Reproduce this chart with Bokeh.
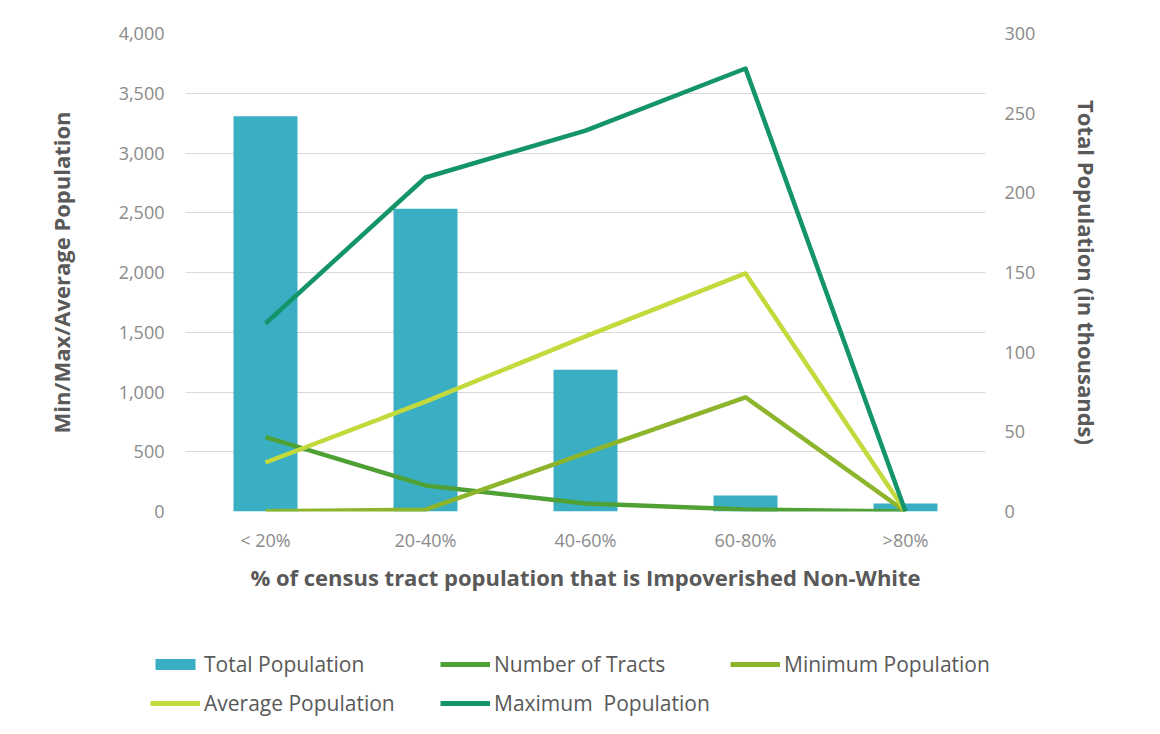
from bokeh.plotting import figure
from bokeh.models import (Range1d, LinearAxis, FactorRange, Legend, LegendItem,
                          NumeralTickFormatter, SingleIntervalTicker, ColumnDataSource)
from bokeh.embed import file_html
from bokeh.resources import INLINE

categories = ["< 20%", "20-40%", "40-60%", "60-80%", ">80%"]
total_population_k = [248, 190, 89, 10, 5]
number_of_tracts = [622, 218, 67, 17, 0]
minimum_population = [3, 15, 488, 956, 0]
average_population = [410, 920, 1465, 1992, 0]
maximum_population = [1573, 2795, 3188, 3707, 0]
legend_labels = ["Total Population", "Number of Tracts", "Minimum Population",
                 "Average Population", "Maximum  Population"]

FONT = "Open Sans"
BAR = "#3AAFC4"
TRACTS = "#4FA035"
MINC = "#8DB52C"
AVG = "#C3D93C"
MAXC = "#14946B"

src = ColumnDataSource(dict(cat=categories, tot=total_population_k, tr=number_of_tracts,
                            mn=minimum_population, av=average_population, mx=maximum_population))

W = 1152
p = figure(width=W, height=600, x_range=FactorRange(*categories, range_padding=0),
           y_range=Range1d(0, 4000), output_backend="svg", toolbar_location=None,
           min_border_left=185, min_border_right=167, min_border_top=33, min_border_bottom=89)
p.extra_y_ranges = {"tot": Range1d(0, 300)}
p.outline_line_color = None
p.background_fill_color = "white"
p.border_fill_color = "white"

p.xgrid.grid_line_color = None
p.ygrid.grid_line_color = "#D9D9D9"
p.ygrid.grid_line_width = 1.2
p.ygrid.ticker = SingleIntervalTicker(interval=500)

p.vbar(x="cat", top="tot", width=0.4, source=src, y_range_name="tot",
       fill_color=BAR, line_color=None)
p.line(x="cat", y="tr", source=src, line_color=TRACTS, line_width=4.5, line_join="round")
p.line(x="cat", y="mn", source=src, line_color=MINC, line_width=4.5, line_join="round")
p.line(x="cat", y="av", source=src, line_color=AVG, line_width=4.5, line_join="round")
p.line(x="cat", y="mx", source=src, line_color=MAXC, line_width=4.5, line_join="round")

def style_axis(ax):
    ax.axis_line_color = None
    ax.major_tick_line_color = None
    ax.minor_tick_line_color = None
    ax.major_label_text_font = FONT
    ax.major_label_text_font_size = "18px"
    ax.major_label_text_color = "#8A8A8A"
    ax.axis_label_text_font = FONT
    ax.axis_label_text_font_style = "bold"
    ax.axis_label_text_font_size = "22px"
    ax.axis_label_text_color = "#595959"

yl = p.yaxis[0]
style_axis(yl)
yl.ticker = SingleIntervalTicker(interval=500)
yl.formatter = NumeralTickFormatter(format="0,0")
yl.axis_label = "Min/Max/Average Population"
yl.major_label_standoff = 15
yl.axis_label_standoff = 40

yr = LinearAxis(y_range_name="tot", axis_label="Total Population (in thousands)",
                ticker=SingleIntervalTicker(interval=50))
style_axis(yr)
yr.major_label_standoff = 13
yr.axis_label_standoff = 34
p.add_layout(yr, "right")

xa = p.xaxis[0]
style_axis(xa)
xa.axis_label = "% of census tract population that is Impoverished Non-White"
xa.major_label_standoff = 10
xa.axis_label_standoff = 7

# legend panel below the chart (separate root so its frame spans the full width)
lg = figure(width=W, height=126, x_range=Range1d(0, 1), y_range=Range1d(0, 1),
            output_backend="svg", toolbar_location=None,
            min_border=0, min_border_left=0, min_border_right=0,
            min_border_top=0, min_border_bottom=0)
lg.axis.visible = False
lg.grid.visible = False
lg.outline_line_color = None
lg.background_fill_color = "white"
lg.border_fill_color = "white"
nan = float("nan")
r0 = lg.vbar(x=[nan], top=[nan], width=0.5, fill_color=BAR, line_color=None)
r1 = lg.line(x=[nan], y=[nan], line_color=TRACTS, line_width=5)
r2 = lg.line(x=[nan], y=[nan], line_color=MINC, line_width=5)
r3 = lg.line(x=[nan], y=[nan], line_color=AVG, line_width=5)
r4 = lg.line(x=[nan], y=[nan], line_color=MAXC, line_width=5)

legend = Legend(items=[LegendItem(label=lab, renderers=[r])
                       for lab, r in zip(legend_labels, [r0, r1, r2, r3, r4])],
                location=(150, 9), orientation="horizontal", ncols=3)
legend.border_line_color = None
legend.background_fill_alpha = 0
legend.padding = 0
legend.margin = 0
legend.spacing = 11
legend.glyph_width = 50
legend.glyph_height = 14
legend.label_height = 20
legend.label_width = 225
legend.label_standoff = 4
legend.label_text_font = FONT
legend.label_text_font_size = "21px"
legend.label_text_color = "#595959"
lg.add_layout(legend, "center")

open("out.html", "w").write(file_html([p, lg], INLINE))
